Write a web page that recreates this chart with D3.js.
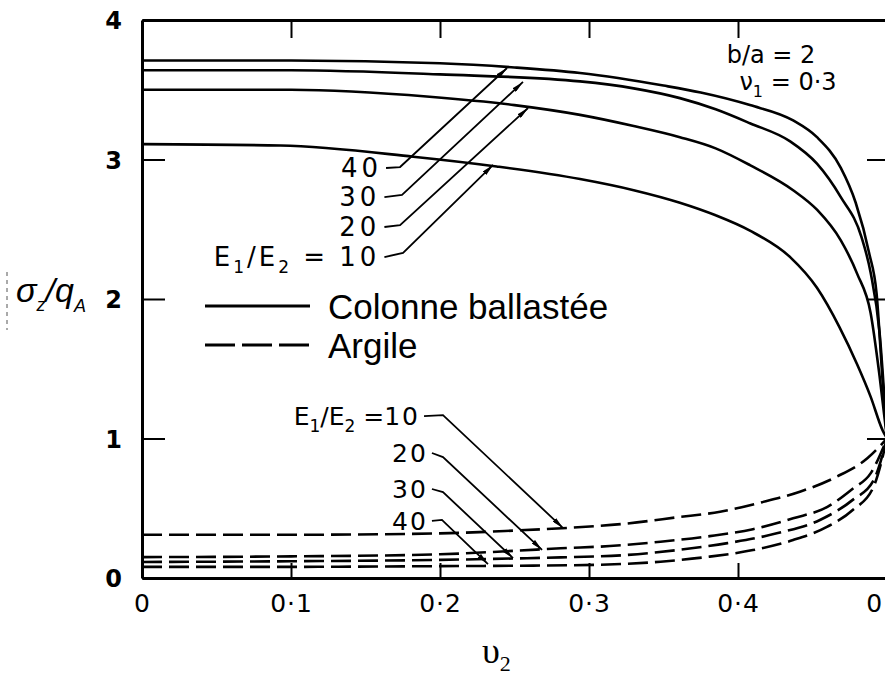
<!DOCTYPE html>
<html><head><meta charset="utf-8">
<script src="https://cdn.jsdelivr.net/npm/d3@7"></script>
<style>body{margin:0;background:#fff} svg{display:block}</style>
</head><body>
<svg id="chart" width="885" height="677"></svg>
<script>
// ---------- data ----------
const xTickValues = [0, 0.1, 0.2, 0.3, 0.4, 0.5];
const xTickLabels = ["0", "0·1", "0·2", "0·3", "0·4", "0·5"];
const yTickValues = [0, 1, 2, 3, 4];
const yTickLabels = ["0", "1", "2", "3", "4"];
const ratios = [10, 20, 30, 40];

// Colonne ballastée (solid) : [nu2, sigma_z/q_A]
const colonne10 = [[0,3.11],[0.093,3.10],[0.182,3.02],[0.238,2.95],[0.294,2.86],[0.33,2.78],[0.361,2.69],[0.385,2.60],[0.408,2.49],[0.435,2.30],[0.453,2.08],[0.468,1.80],[0.48,1.53],[0.489,1.30],[0.497,1.06],[0.5,1.0]];
const colonne20 = [[0,3.50],[0.1,3.50],[0.193,3.45],[0.25,3.39],[0.294,3.32],[0.33,3.24],[0.361,3.16],[0.385,3.08],[0.408,2.96],[0.437,2.78],[0.453,2.64],[0.469,2.42],[0.48,2.18],[0.489,1.90],[0.495,1.45],[0.5,1.0]];
const colonne30 = [[0,3.64],[0.1,3.64],[0.2,3.61],[0.294,3.56],[0.33,3.51],[0.361,3.44],[0.385,3.36],[0.408,3.26],[0.435,3.13],[0.453,2.97],[0.469,2.73],[0.483,2.44],[0.489,2.19],[0.495,1.76],[0.5,1.0]];
const colonne40 = [[0,3.71],[0.1,3.71],[0.2,3.69],[0.25,3.66],[0.294,3.62],[0.35,3.53],[0.375,3.48],[0.408,3.39],[0.437,3.28],[0.453,3.16],[0.469,2.94],[0.479,2.69],[0.488,2.33],[0.493,2.04],[0.497,1.42],[0.5,1.0]];

// Argile (dashed)
const argile10 = [[0,0.31],[0.1,0.31],[0.2,0.32],[0.25,0.34],[0.287,0.36],[0.325,0.39],[0.359,0.435],[0.388,0.475],[0.415,0.54],[0.442,0.62],[0.466,0.725],[0.487,0.86],[0.5,1.0]];
const argile20 = [[0,0.15],[0.1,0.155],[0.2,0.17],[0.25,0.195],[0.281,0.213],[0.314,0.229],[0.348,0.26],[0.381,0.30],[0.41,0.35],[0.437,0.428],[0.46,0.51],[0.477,0.64],[0.489,0.75],[0.5,1.0]];
const argile30 = [[0,0.115],[0.1,0.12],[0.2,0.13],[0.25,0.14],[0.281,0.148],[0.325,0.165],[0.359,0.20],[0.393,0.25],[0.426,0.32],[0.455,0.416],[0.477,0.56],[0.491,0.70],[0.5,1.0]];
const argile40 = [[0,0.08],[0.1,0.08],[0.2,0.085],[0.25,0.088],[0.307,0.095],[0.348,0.117],[0.381,0.153],[0.41,0.20],[0.437,0.272],[0.46,0.368],[0.477,0.487],[0.491,0.654],[0.5,1.0]];

const colonneSeries = [colonne10, colonne20, colonne30, colonne40];
const argileSeries = [argile10, argile20, argile30, argile40];

// leader annotation anchor points (data units): label end, bend, arrow tip
const colonneLabelPos = [[0.160,2.301],[0.160,2.516],[0.160,2.731],[0.1611,2.939]];
const colonneBendPos  = [[0.1752,2.330],[0.1732,2.530],[0.1745,2.746],[0.1732,2.946]];
const colonneTipPos   = [[0.2356,2.961],[0.2591,3.369],[0.2557,3.556],[0.245,3.656]];
const argileLabelPos = [[0.1866,1.161],[0.1919,0.896],[0.1919,0.638],[0.1919,0.409]];
const argileBendPos  = [[0.2020,1.168],[0.2020,0.867],[0.2020,0.616],[0.2013,0.416]];
const argileTipPos   = [[0.2826,0.358],[0.2685,0.201],[0.249,0.143],[0.2322,0.100]];

// ---------- drawing ----------
const svg = d3.select("#chart");
svg.append("rect").attr("width",885).attr("height",677).attr("fill","#fff");

const x = d3.scaleLinear().domain([0, 0.5]).range([142, 887]);
const y = d3.scaleLinear().domain([0, 4]).range([578, 20]);

const defs = svg.append("defs");
defs.append("marker").attr("id","arr").attr("viewBox","0 0 12 5")
  .attr("refX",12).attr("refY",2.5).attr("markerWidth",12).attr("markerHeight",5)
  .attr("markerUnits","userSpaceOnUse").attr("orient","auto")
  .append("path").attr("d","M0,0 L12,2.5 L0,5 Z").attr("fill","#000");

const tickFont = "'DejaVu Sans', sans-serif";

// Axes
const gB = svg.append("g").attr("transform",`translate(0,${y(0)})`)
  .call(d3.axisBottom(x).tickValues(xTickValues).tickSizeInner(-15).tickSizeOuter(0)
        .tickPadding(16).tickFormat((d,i)=>xTickLabels[i]));
const gT = svg.append("g").attr("transform",`translate(0,${y(4)})`)
  .call(d3.axisTop(x).tickValues(xTickValues.slice(1,5)).tickSizeInner(-18).tickSizeOuter(0).tickFormat(""));
const gL = svg.append("g").attr("transform",`translate(${x(0)},0)`)
  .call(d3.axisLeft(y).tickValues(yTickValues).tickSizeInner(-23).tickSizeOuter(0)
        .tickPadding(20).tickFormat((d,i)=>yTickLabels[i]));
const gR = svg.append("g").attr("transform",`translate(${x(0.5)},0)`)
  .call(d3.axisRight(y).tickValues([1,2,3]).tickSizeInner(-20).tickSizeOuter(0).tickFormat(""));

[gB,gT,gL,gR].forEach(g=>{
  g.select(".domain").attr("stroke","#000").attr("stroke-width",3);
  g.selectAll(".tick line").attr("stroke","#000").attr("stroke-width",2);
  g.selectAll(".tick text").attr("fill","#000").style("font-family",tickFont);
});
gB.selectAll(".tick text").style("font-size","25px").style("letter-spacing","1px").attr("dy","0.72em");
gL.selectAll(".tick text").style("font-size","24px").style("font-weight","bold").attr("dy","0.36em");

// Curves
const line = d3.line().x(d=>x(d[0])).y(d=>y(d[1])).curve(d3.curveMonotoneX);
svg.append("g").selectAll("path").data(colonneSeries).join("path")
  .attr("d", line).attr("fill","none").attr("stroke","#000").attr("stroke-width",2.6);
svg.append("g").selectAll("path").data(argileSeries).join("path")
  .attr("d", line).attr("fill","none").attr("stroke","#000").attr("stroke-width",2.6)
  .attr("stroke-dasharray","20,7");

// Leader labels + arrows
function leaders(labelPos, bendPos, tipPos, opts) {
  const g = svg.append("g");
  ratios.forEach((r,i)=>{
    const lx = x(labelPos[i][0]), ly = y(labelPos[i][1]);
    const t = g.append("text").attr("x",lx).attr("y",ly).attr("dy","0.36em")
      .attr("text-anchor","end").style("font-family",tickFont).style("font-size",opts.size+"px");
    if (r === 10) {
      const pre = opts.prefixSpacing + "px";
      t.append("tspan").text("E").style("letter-spacing",pre);
      t.append("tspan").text("1").style("font-size","17px").attr("dy",7).style("letter-spacing",pre);
      t.append("tspan").text("/E").attr("dy",-7).style("letter-spacing",pre);
      t.append("tspan").text("2").style("font-size","17px").attr("dy",7).style("letter-spacing",pre);
      t.append("tspan").text(opts.eq).attr("dy",-7).style("letter-spacing",pre);
      t.append("tspan").text("10").style("letter-spacing",opts.spacing+"px");
    } else {
      t.text(String(r)).style("letter-spacing",opts.spacing+"px");
    }
    g.append("path")
      .attr("d",`M${lx+4},${ly} L${x(bendPos[i][0])},${y(bendPos[i][1])} L${x(tipPos[i][0])},${y(tipPos[i][1])}`)
      .attr("fill","none").attr("stroke","#000").attr("stroke-width",1.8)
      .attr("marker-end","url(#arr)");
  });
}
leaders(colonneLabelPos, colonneBendPos, colonneTipPos, {size:26, spacing:4, prefixSpacing:3, eq:" = "});
leaders(argileLabelPos, argileBendPos, argileTipPos, {size:25, spacing:2, prefixSpacing:0, eq:" ="});

// Legend
const leg = svg.append("g");
leg.append("line").attr("x1",205).attr("x2",310).attr("y1",306).attr("y2",306)
  .attr("stroke","#000").attr("stroke-width",3);
leg.append("line").attr("x1",205).attr("x2",310).attr("y1",345).attr("y2",345)
  .attr("stroke","#000").attr("stroke-width",3).attr("stroke-dasharray","30,7");
leg.append("text").attr("x",328).attr("y",319).text("Colonne ballastée")
  .style("font-family","'Liberation Sans', Arial, sans-serif").style("font-size","35px");
leg.append("text").attr("x",328).attr("y",358).text("Argile")
  .style("font-family","'Liberation Sans', Arial, sans-serif").style("font-size","35px");

// Parameters text
const pg = svg.append("g").style("font-family",tickFont).style("font-size","24px");
pg.append("text").attr("x",771).attr("y",63).attr("text-anchor","middle").text("b/a = 2");
const nu = pg.append("text").attr("x",788).attr("y",90).attr("text-anchor","middle");
nu.append("tspan").text("ν");
nu.append("tspan").text("1").style("font-size","16px").attr("dy",7);
nu.append("tspan").text(" = 0·3").attr("dy",-7);

// Y axis title
const yt = svg.append("text").attr("x",16).attr("y",302)
  .style("font-family","'Liberation Sans', Arial, sans-serif").style("font-size","34px").style("font-style","italic");
yt.append("tspan").text("σ");
yt.append("tspan").text("z").style("font-size","18px").attr("dy",9);
yt.append("tspan").text("/q").attr("dy",-9);
yt.append("tspan").text("A").style("font-size","18px").attr("dy",10);
svg.append("line").attr("x1",7).attr("x2",7).attr("y1",272).attr("y2",330)
  .attr("stroke","#555").attr("stroke-width",1).attr("stroke-dasharray","4,4");

// X axis title
const xt = svg.append("text").attr("x",482).attr("y",663)
  .style("font-family","'Liberation Serif', 'Times New Roman', serif").style("font-size","36px");
xt.append("tspan").text("υ");
xt.append("tspan").text("2").style("font-size","22px").attr("dy",8);
</script>
</body></html>
